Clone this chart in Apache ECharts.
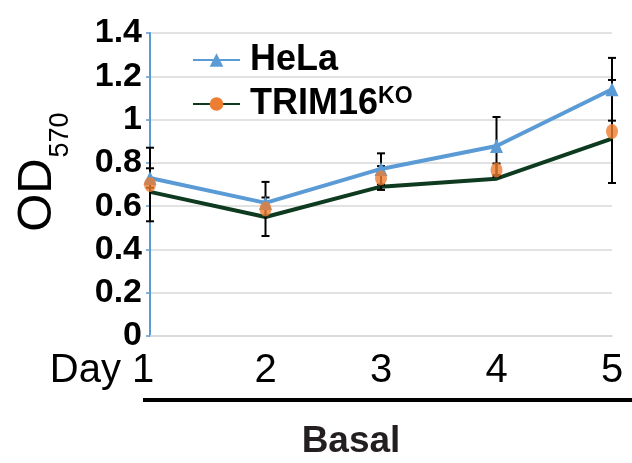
<!DOCTYPE html>
<html><head><meta charset="utf-8">
<script src="https://cdn.jsdelivr.net/npm/echarts@6/dist/echarts.min.js"></script>
<style>html,body{margin:0;padding:0;background:#fff}#c{width:632px;height:463px}</style>
</head><body><div id="c"></div>
<script>
// ---- data ----
const days = ['Day 1', '2', '3', '4', '5'];
const yMin = 0, yMax = 1.4, yInterval = 0.2;
const helaValues = [0.73, 0.615, 0.772, 0.878, 1.14];
const helaErr = [0.045, 0.025, 0.072, 0.134, 0.145];
const trimLineValues = [0.666, 0.55, 0.69, 0.727, 0.912];
const trimMarkerValues = [0.70, 0.587, 0.73, 0.767, 0.945];
const trimErr = [0.17, 0.125, 0.055, 0.03, 0.238];

const FONT = 'Liberation Sans, Arial, sans-serif';
const BLUE = '#5B9BD5', GREEN = '#0E3B1F', ORANGE = '#ED7D31';

function errData(vals, errs) {
  return vals.map((v, i) => [i, v - errs[i], v + errs[i]]);
}
function renderErr(params, api) {
  const x = api.value(0);
  const lo = api.coord([x, api.value(1)]);
  const hi = api.coord([x, api.value(2)]);
  const cap = 4;
  const st = { stroke: '#000', lineWidth: 2 };
  return {
    type: 'group',
    children: [
      { type: 'line', shape: { x1: lo[0], y1: lo[1], x2: hi[0], y2: hi[1] }, style: st },
      { type: 'line', shape: { x1: lo[0] - cap, y1: lo[1], x2: lo[0] + cap, y2: lo[1] }, style: st },
      { type: 'line', shape: { x1: hi[0] - cap, y1: hi[1], x2: hi[0] + cap, y2: hi[1] }, style: st }
    ]
  };
}

const chart = echarts.init(document.getElementById('c'), null, { renderer: 'canvas' });
chart.setOption({
  animation: false,
  backgroundColor: '#fff',
  grid: { left: 150, right: 20, top: 33, bottom: 127, containLabel: false },
  legend: {
    orient: 'vertical', left: 187, top: 36,
    itemWidth: 47, itemHeight: 17, itemGap: 6,
    data: ['HeLa', { name: 'TRIM16KO', itemStyle: { color: ORANGE } }],
    formatter: function (name) {
      return name === 'TRIM16KO' ? '{a|TRIM16}{s|KO}' : '{a|HeLa}';
    },
    textStyle: {
      lineHeight: 38,
      rich: {
        a: { fontSize: 36, fontWeight: 'bold', fontFamily: FONT, color: '#000', lineHeight: 38, padding: [0, 0, 0, 5] },
        s: { fontSize: 23, fontWeight: 'bold', fontFamily: FONT, color: '#000', verticalAlign: 'top', lineHeight: 38, padding: [0, 0, 12, 0] }
      }
    }
  },
  xAxis: {
    type: 'category', data: days, boundaryGap: false,
    axisLine: { show: true, lineStyle: { color: '#d9d9d9', width: 1.5 } },
    axisTick: { show: false },
    splitLine: { show: false },
    axisLabel: {
      margin: 15,
      formatter: function (v, i) { return i === 0 ? '{n|Day 1}{p|}' : '{n|' + v + '}'; },
      rich: {
        n: { fontSize: 40, fontFamily: FONT, color: '#000' },
        p: { width: 96 }
      }
    }
  },
  yAxis: {
    type: 'value', min: yMin, max: yMax, interval: yInterval,
    axisLine: { show: true, lineStyle: { color: BLUE, width: 2 } },
    axisTick: { show: true, length: 4, lineStyle: { color: BLUE, width: 1.5 } },
    splitLine: { show: true, lineStyle: { color: '#d9d9d9', width: 1.5 } },
    axisLabel: { margin: 8, fontSize: 34, fontWeight: 'bold', fontFamily: FONT, color: '#000' }
  },
  graphic: [
    { type: 'text', x: 37, y: 195, rotation: Math.PI / 2,
      style: { text: 'OD', fontSize: 49, fontFamily: FONT, fill: '#000', align: 'center', verticalAlign: 'middle' } },
    { type: 'text', x: 61, y: 135, rotation: Math.PI / 2,
      style: { text: '570', fontSize: 27, fontFamily: FONT, fill: '#000', align: 'center', verticalAlign: 'middle' } },
    { type: 'line', shape: { x1: 143, y1: 400, x2: 632, y2: 400 }, style: { stroke: '#000', lineWidth: 4 } },
    { type: 'text', x: 351, y: 442,
      style: { text: 'Basal', fontSize: 37, fontWeight: 'bold', fontFamily: FONT, fill: '#231f20', align: 'center', verticalAlign: 'middle' } }
  ],
  series: [
    { name: 'TRIM16KO', type: 'line', data: trimLineValues, symbol: 'none', z: 1,
      lineStyle: { color: GREEN, width: 4 }, itemStyle: { color: GREEN } },
    { name: 'HeLa', type: 'line', data: helaValues, symbol: 'triangle', symbolSize: [13, 14], z: 3,
      lineStyle: { color: BLUE, width: 4 }, itemStyle: { color: BLUE } },
    { name: 'helaErr', type: 'custom', data: errData(helaValues, helaErr), renderItem: renderErr,
      encode: { x: 0, y: [1, 2] }, z: 2 },
    { name: 'trimErr', type: 'custom', data: errData(trimMarkerValues, trimErr), renderItem: renderErr,
      encode: { x: 0, y: [1, 2] }, z: 2 },
    { name: 'trimMarkers', type: 'scatter', data: trimMarkerValues, symbol: 'circle', symbolSize: [12, 15], z: 4,
      itemStyle: { color: ORANGE } }
  ]
});
</script></body></html>
